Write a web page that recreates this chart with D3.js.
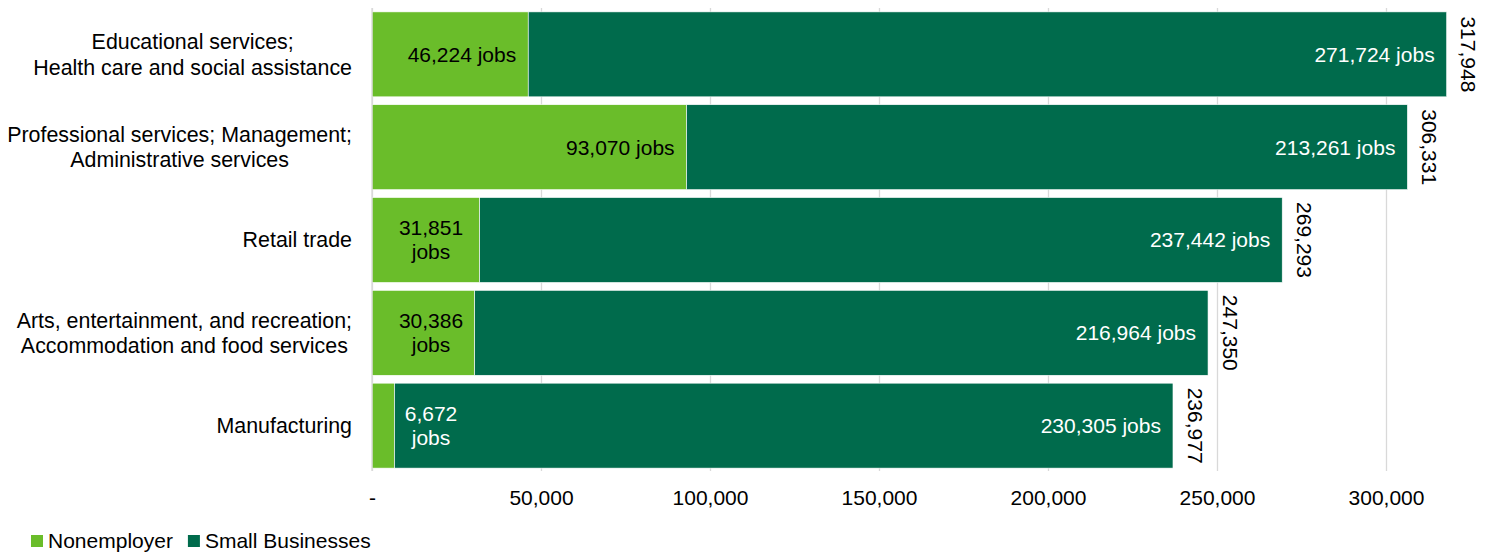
<!DOCTYPE html>
<html>
<head>
<meta charset="utf-8">
<script src="https://cdn.jsdelivr.net/npm/d3@7"></script>
<style>
  body { margin: 0; background: #fff; }
  svg text { font-family: "Liberation Sans", Arial, sans-serif; }
</style>
</head>
<body>
<script>
var width = 1489,
    height = 554;

// data
var categories = [
    "Educational services;\nHealth care and social assistance",
    "Professional services; Management;\nAdministrative services",
    "Retail trade",
    "Arts, entertainment, and recreation;\nAccommodation and food services",
    "Manufacturing"
];
var nonemployer = [46224, 93070, 31851, 30386, 6672];
var smallBiz = [271724, 213261, 237442, 216964, 230305];
var xTicks = [0, 50000, 100000, 150000, 200000, 250000, 300000];
var seriesNames = ["Nonemployer", "Small Businesses"];

var lightGreen = "#6abd2a",
    darkGreen = "#006b4c";
var fontSize = 21;

var svg = d3.select("body").append("svg")
    .attr("width", width)
    .attr("height", height);

var x = d3.scaleLinear()
    .domain([0, 300000])
    .range([372, 1386]);

var y = d3.scaleBand()
    .domain(categories)
    .range([4, 476])
    .paddingInner(0.085)
    .paddingOuter(0.085);

var plotTop = 8, plotBottom = 471;

// gridlines + tick labels
var xAxis = d3.axisBottom(x)
    .tickValues(xTicks)
    .tickSize(-(plotBottom - plotTop))
    .tickPadding(19)
    .tickFormat(function(d) { return d === 0 ? "-" : d3.format(",")(d); });

var gx = svg.append("g")
    .attr("transform", "translate(0," + plotBottom + ")")
    .call(xAxis);
gx.select(".domain").remove();
gx.selectAll(".tick line").attr("stroke", "#d9d9d9").attr("stroke-width", 1.3);
gx.selectAll(".tick text")
    .attr("fill", "#000")
    .style("font-size", fontSize + "px")
    .style("font-family", "Liberation Sans, Arial, sans-serif");

var rows = categories.map(function(c, i) {
    return { cat: c, ne: nonemployer[i], sb: smallBiz[i], total: nonemployer[i] + smallBiz[i] };
});

// bars
var bars = svg.append("g");
bars.selectAll("rect.ne")
    .data(rows).enter().append("rect")
    .attr("class", "ne")
    .attr("x", x(0))
    .attr("y", function(d) { return y(d.cat); })
    .attr("width", function(d) { return x(d.ne) - x(0); })
    .attr("height", y.bandwidth())
    .attr("fill", lightGreen)
    .attr("stroke", "#fff")
    .attr("stroke-width", 0.6);
bars.selectAll("rect.sb")
    .data(rows).enter().append("rect")
    .attr("class", "sb")
    .attr("x", function(d) { return x(d.ne); })
    .attr("y", function(d) { return y(d.cat); })
    .attr("width", function(d) { return x(d.total) - x(d.ne); })
    .attr("height", y.bandwidth())
    .attr("fill", darkGreen)
    .attr("stroke", "#fff")
    .attr("stroke-width", 0.6);

// left axis line
svg.append("line")
    .attr("x1", x(0)).attr("x2", x(0))
    .attr("y1", plotTop).attr("y2", plotBottom)
    .attr("stroke", "#d9d9d9")
    .attr("stroke-width", 1.3);

// category labels, multi-line centred as a block, right-aligned to axis
var catG = svg.append("g");
rows.forEach(function(d) {
    var lines = d.cat.split("\n");
    var cy = y(d.cat) + y.bandwidth() / 2;
    var t = catG.append("text")
        .style("font-size", "21.4px")
        .attr("fill", "#000");
    lines.forEach(function(l, j) {
        t.append("tspan")
            .attr("y", cy + (j - (lines.length - 1) / 2) * 25.5)
            .attr("dy", "0.35em")
            .text(l);
    });
    var w = 0;
    t.selectAll("tspan").each(function() { w = Math.max(w, this.getComputedTextLength()); });
    var right = x(0) - 20;
    t.attr("text-anchor", "middle");
    t.selectAll("tspan").attr("x", right - w / 2);
});

// value labels
var lab = svg.append("g").style("font-size", fontSize + "px");
rows.forEach(function(d) {
    var cy = y(d.cat) + y.bandwidth() / 2;
    var segW = x(d.ne) - x(0);
    var txt = d3.format(",")(d.ne) + " jobs";
    var t = lab.append("text")
        .attr("x", x(d.ne) - 12)
        .attr("y", cy)
        .attr("dy", "0.35em")
        .attr("text-anchor", "end")
        .attr("fill", "#000")
        .text(txt);
    if (t.node().getComputedTextLength() + 24 > segW) {
        // wrap onto two lines
        t.text(null).attr("text-anchor", "middle")
            .attr("fill", segW < 40 ? "#fff" : "#000");
        [d3.format(",")(d.ne), "jobs"].forEach(function(l, j) {
            t.append("tspan")
                .attr("x", x(0) + 59)
                .attr("y", cy + (j - 0.5) * 24)
                .attr("dy", "0.35em")
                .text(l);
        });
    }
    lab.append("text")
        .attr("x", x(d.total) - 12)
        .attr("y", cy)
        .attr("dy", "0.35em")
        .attr("text-anchor", "end")
        .attr("fill", "#fff")
        .text(d3.format(",")(d.sb) + " jobs");

    // total, rotated
    var tx = x(d.total) + 22;
    lab.append("text")
        .attr("transform", "translate(" + tx + "," + cy + ") rotate(90)")
        .attr("text-anchor", "middle")
        .attr("dy", "0.35em")
        .attr("fill", "#000")
        .text(d3.format(",")(d.total));
});

// legend
var legend = svg.append("g")
    .attr("transform", "translate(31,541)");
var lx = 0;
seriesNames.forEach(function(n, i) {
    var g = legend.append("g").attr("transform", "translate(" + lx + ",0)");
    g.append("rect")
        .attr("x", 0).attr("y", -6)
        .attr("width", 12).attr("height", 12)
        .attr("fill", i === 0 ? lightGreen : darkGreen);
    var t = g.append("text")
        .attr("x", 17)
        .attr("dy", "0.35em")
        .style("font-size", fontSize + "px")
        .attr("fill", "#000")
        .text(n);
    lx += 17 + t.node().getComputedTextLength() + 15;
});
</script>
</body>
</html>
